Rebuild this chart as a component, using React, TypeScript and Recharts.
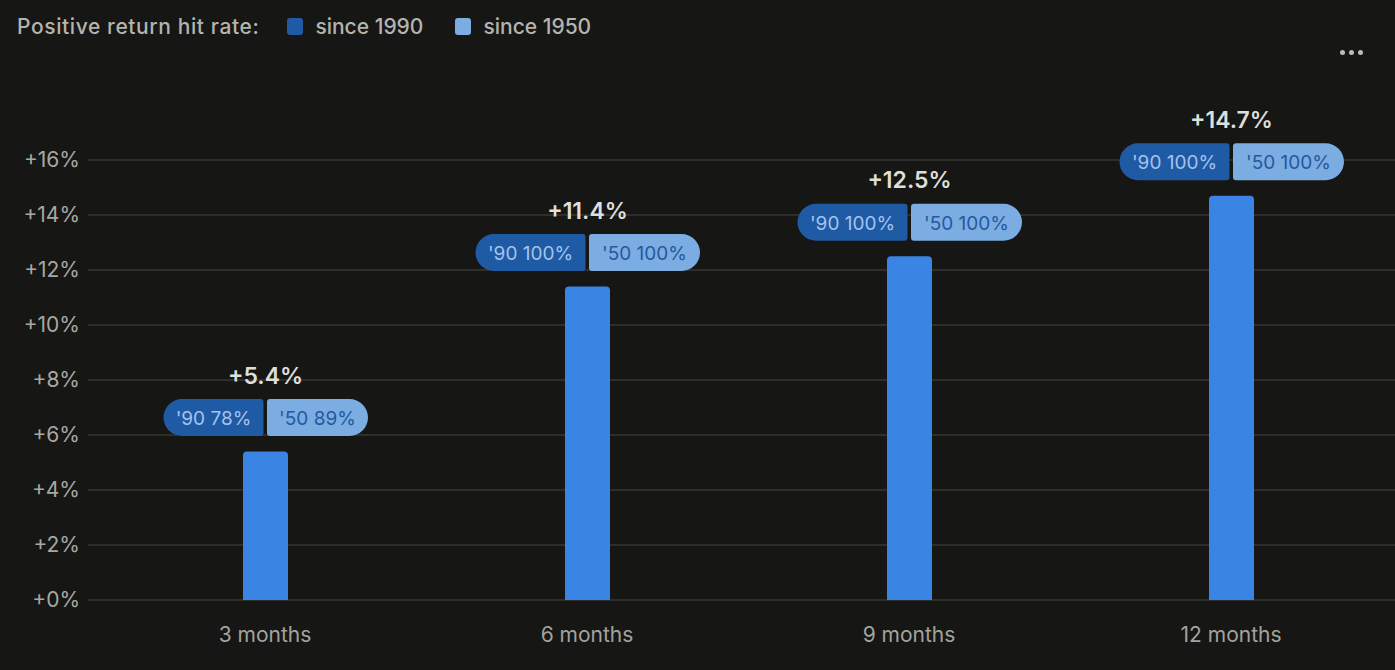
import { Bar, BarChart, CartesianGrid, LabelList, XAxis, YAxis } from 'recharts';

const periods = ['3 months', '6 months', '9 months', '12 months'];
const avgReturn = [5.4, 11.4, 12.5, 14.7];
const hitRate1990 = [78, 100, 100, 100];
const hitRate1950 = [89, 100, 100, 100];
const yTicks = [0, 2, 4, 6, 8, 10, 12, 14, 16];

const FONT = 'Inter, "Liberation Sans", Arial, sans-serif';
const BG = '#161614';
const DARK_PILL = '#1f5aa5';
const LIGHT_PILL = '#7badE3';
const BAR = '#3a84e3';

const data = periods.map((period, i) => ({
  period,
  value: avgReturn[i],
  hit90: hitRate1990[i],
  hit50: hitRate1950[i],
}));

function pillPath(x: number, y: number, w: number, h: number, rl: number, rr: number) {
  return [
    `M${x + rl},${y}`,
    `L${x + w - rr},${y}`,
    `A${rr},${rr} 0 0 1 ${x + w},${y + rr}`,
    `L${x + w},${y + h - rr}`,
    `A${rr},${rr} 0 0 1 ${x + w - rr},${y + h}`,
    `L${x + rl},${y + h}`,
    `A${rl},${rl} 0 0 1 ${x},${y + h - rl}`,
    `L${x},${y + rl}`,
    `A${rl},${rl} 0 0 1 ${x + rl},${y}`,
    'Z',
  ].join(' ');
}

function BarBadge(props: any) {
  const { x, y, width, index } = props;
  const row = data[index];
  if (!row) return null;
  const cx = x + width / 2;
  const pillH = 37;
  const pillTop = y - 34 - pillH / 2;
  const leftText = `'90 ${row.hit90}%`;
  const rightText = `'50 ${row.hit50}%`;
  const leftW = 30 + leftText.length * 10;
  const rightW = 31 + rightText.length * 10;
  const leftX = cx - 2 - leftW;
  const rightX = cx + 1.5;
  return (
    <g>
      <text
        x={cx}
        y={y - 76}
        textAnchor="middle"
        dominantBaseline="central"
        fill="#dededa"
        fontSize={23}
        fontWeight={600}
        fontFamily={FONT}
      >
        {`+${row.value.toFixed(1)}%`}
      </text>
      <path d={pillPath(leftX, pillTop, leftW, pillH, 18.5, 3)} fill={DARK_PILL} />
      <path d={pillPath(rightX, pillTop, rightW, pillH, 3, 18.5)} fill={LIGHT_PILL} />
      <text
        x={leftX + leftW / 2}
        y={pillTop + pillH / 2 + 1}
        textAnchor="middle"
        dominantBaseline="central"
        fill="#a4c3ec"
        fontSize={19}
        fontFamily={FONT}
      >
        {leftText}
      </text>
      <text
        x={rightX + rightW / 2}
        y={pillTop + pillH / 2 + 1}
        textAnchor="middle"
        dominantBaseline="central"
        fill="#25599d"
        fontSize={19}
        fontFamily={FONT}
      >
        {rightText}
      </text>
    </g>
  );
}

function LegendSwatch({ color, label }: { color: string; label: string }) {
  return (
    <span style={{ display: 'inline-flex', alignItems: 'center', marginRight: 32, letterSpacing: 0 }}>
      <span
        style={{
          width: 16,
          height: 17,
          borderRadius: 3,
          background: color,
          marginRight: 12,
          display: 'inline-block',
        }}
      />
      {label}
    </span>
  );
}

export default function App() {
  return (
    <div
      style={{
        position: 'absolute',
        left: 0,
        top: 0,
        width: 1395,
        height: 670,
        background: BG,
        fontFamily: FONT,
        overflow: 'hidden',
      }}
    >
      <div
        style={{
          position: 'absolute',
          left: 17,
          top: 13,
          height: 26,
          display: 'flex',
          alignItems: 'center',
          fontSize: 21,
          fontWeight: 500,
          color: '#b4b4af',
          letterSpacing: 0.6,
        }}
      >
        <span style={{ marginRight: 28 }}>Positive return hit rate:</span>
        <LegendSwatch color={DARK_PILL} label="since 1990" />
        <LegendSwatch color={LIGHT_PILL} label="since 1950" />
      </div>
      <div style={{ position: 'absolute', left: 1340, top: 50, display: 'flex', gap: 4 }}>
        {[0, 1, 2].map((i) => (
          <span
            key={i}
            style={{ width: 5, height: 5, borderRadius: 3, background: '#bdbdb8', display: 'inline-block' }}
          />
        ))}
      </div>
      <div style={{ position: 'absolute', left: 0, top: 0 }}>
        <BarChart
          width={1395}
          height={670}
          data={data}
          margin={{ top: 160, right: 0, bottom: 30, left: 0 }}
        >
          <CartesianGrid vertical={false} stroke="#363631" strokeWidth={1.5} />
          <XAxis
            dataKey="period"
            axisLine={false}
            tickLine={false}
            height={40}
            tickMargin={21}
            padding={{ left: 16, right: 3 }}
            tick={{ fill: '#a3a39e', fontSize: 21, fontFamily: FONT }}
          />
          <YAxis
            domain={[0, 16]}
            ticks={yTicks}
            width={88}
            axisLine={false}
            tickLine={false}
            tickFormatter={(v: number) => `+${v}%`}
            tick={{ fill: '#a8a8a3', fontSize: 21, fontFamily: FONT }}
          />
          <Bar dataKey="value" fill={BAR} barSize={45} radius={[4, 4, 0, 0]} isAnimationActive={false}>
            <LabelList dataKey="value" content={BarBadge} />
          </Bar>
        </BarChart>
      </div>
    </div>
  );
}
